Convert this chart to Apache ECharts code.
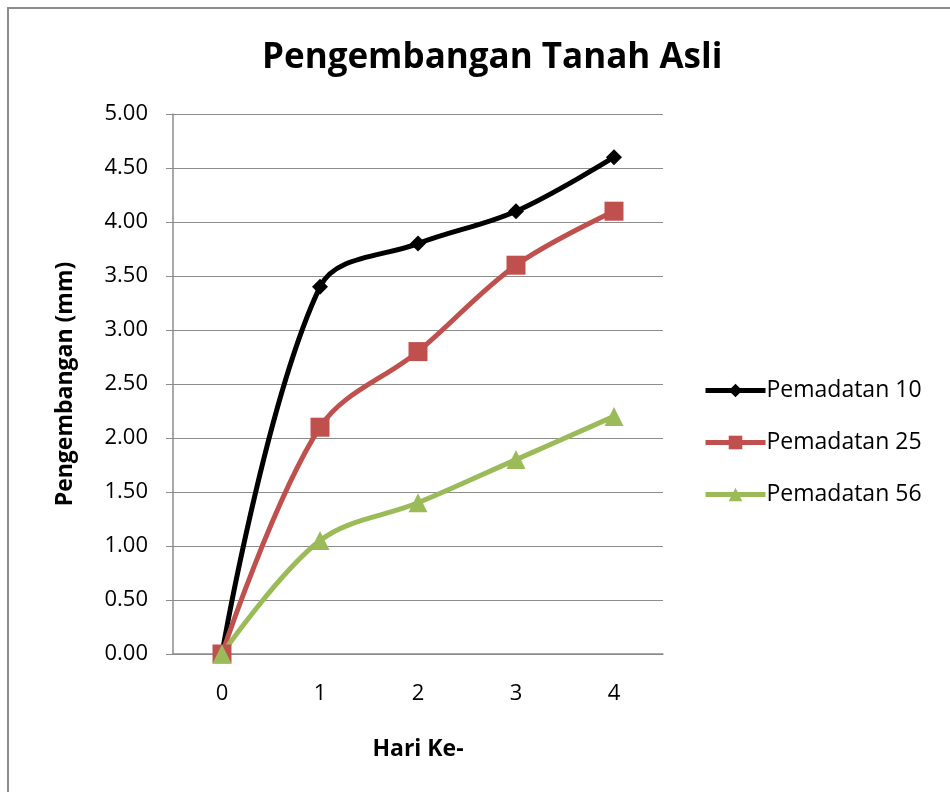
<!DOCTYPE html>
<html>
<head>
<meta charset="utf-8">
<script src="https://cdn.jsdelivr.net/npm/echarts@6/dist/echarts.min.js"></script>
<style>
html, body { margin: 0; padding: 0; background: #fff; }
#chart-container { width: 950px; height: 792px; }
</style>
</head>
<body>
<div id="chart-container"></div>
<script>
var days = ['0', '1', '2', '3', '4'];
var pemadatan10 = [0, 3.4, 3.8, 4.1, 4.6];
var pemadatan25 = [0, 2.1, 2.8, 3.6, 4.1];
var pemadatan56 = [0, 1.05, 1.4, 1.8, 2.2];

var dom = document.getElementById('chart-container');
var myChart = echarts.init(dom, null, { renderer: 'canvas' });
var font = '"Open Sans", "Noto Sans", sans-serif';

var option = {
    animation: false,
    textStyle: { fontFamily: font },
    graphic: [{
        type: 'rect',
        shape: { x: 8, y: 8, width: 960, height: 800 },
        style: { fill: 'none', stroke: '#8c8c8c', lineWidth: 2 }
    }],
    title: {
        text: 'Pengembangan Tanah Asli',
        left: 257,
        top: 36,
        textStyle: { fontFamily: font, fontSize: 35, fontWeight: 'bold', color: '#000' }
    },
    grid: { left: 173, right: 287, top: 114, bottom: 138 },
    legend: {
        orient: 'vertical',
        left: 698,
        top: 374,
        itemWidth: 60,
        itemHeight: 17,
        itemGap: 29,
        lineStyle: { width: 5 },
        textStyle: { fontFamily: font, fontSize: 23, color: '#000', padding: [0, 0, 0, -4] },
        data: ['Pemadatan 10', 'Pemadatan 25', 'Pemadatan 56']
    },
    xAxis: {
        type: 'category',
        data: days,
        boundaryGap: true,
        name: 'Hari Ke-',
        nameLocation: 'middle',
        nameGap: 84,
        nameTextStyle: { fontFamily: font, fontSize: 23, fontWeight: 'bold', color: '#000' },
        axisLine: { lineStyle: { color: '#8c8c8c', width: 1.5 } },
        axisTick: { show: false },
        axisLabel: { fontSize: 22, color: '#000', margin: 29 }
    },
    yAxis: {
        type: 'value',
        min: 0,
        max: 5,
        interval: 0.5,
        name: 'Pengembangan (mm)',
        nameLocation: 'middle',
        nameGap: 96,
        nameTextStyle: { fontFamily: font, fontSize: 23, fontWeight: 'bold', color: '#000' },
        axisLine: { show: true, lineStyle: { color: '#8c8c8c', width: 1.5 } },
        axisTick: { show: true, length: 7, lineStyle: { color: '#8c8c8c' } },
        axisLabel: {
            fontSize: 22, color: '#000', margin: 25,
            formatter: function (v) { return v.toFixed(2); }
        },
        splitLine: { lineStyle: { color: '#8c8c8c', width: 1 } }
    },
    series: [
        {
            name: 'Pemadatan 10',
            type: 'line',
            data: pemadatan10,
            smooth: 0.35,
            symbol: 'diamond',
            symbolSize: 16,
            lineStyle: { color: '#000000', width: 5 },
            itemStyle: { color: '#000000' }
        },
        {
            name: 'Pemadatan 25',
            type: 'line',
            data: pemadatan25,
            smooth: 0.35,
            symbol: 'rect',
            symbolSize: 19,
            lineStyle: { color: '#C0504D', width: 5 },
            itemStyle: { color: '#C0504D' }
        },
        {
            name: 'Pemadatan 56',
            type: 'line',
            data: pemadatan56,
            smooth: 0.35,
            symbol: 'triangle',
            symbolSize: 19,
            lineStyle: { color: '#9BBB59', width: 5 },
            itemStyle: { color: '#9BBB59' }
        }
    ]
};

myChart.setOption(option);
window.addEventListener('resize', myChart.resize);
</script>
</body>
</html>
